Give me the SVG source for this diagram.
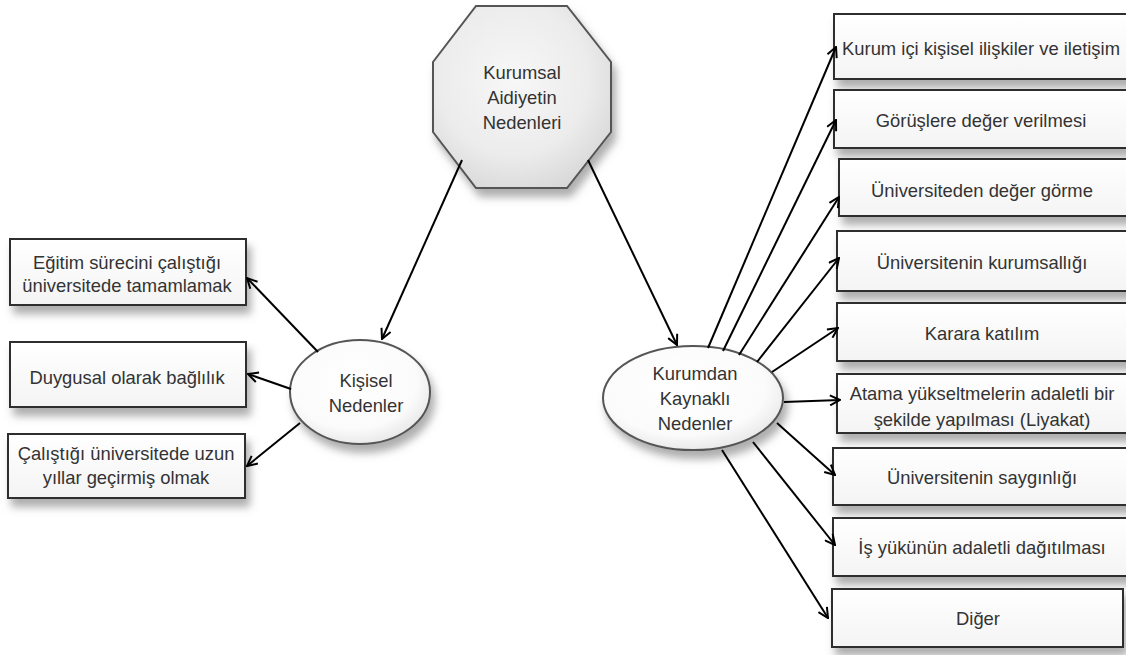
<svg xmlns="http://www.w3.org/2000/svg" width="1126" height="655" viewBox="0 0 1126 655">
<defs>
<style>
.box{fill:url(#boxg);stroke:#2e2e2e;stroke-width:2;filter:url(#sh)}
.ell{fill:url(#ellg);stroke:#555;stroke-width:2;filter:url(#sh)}
.t{font-family:"Liberation Sans",Arial,sans-serif;font-size:18.4px;fill:#333;text-anchor:middle;dominant-baseline:central}
.c{stroke:#000;stroke-width:2;fill:none;marker-end:url(#ah)}
</style>
<linearGradient id="boxg" x1="0" y1="0" x2="0" y2="1"><stop offset="0" stop-color="#ffffff"/><stop offset="1" stop-color="#f4f4f4"/></linearGradient>
<radialGradient id="ellg" cx="0.45" cy="0.4" r="0.65"><stop offset="0" stop-color="#ffffff"/><stop offset="0.7" stop-color="#fbfbfb"/><stop offset="1" stop-color="#e4e4e4"/></radialGradient>
<radialGradient id="octg" cx="0.45" cy="0.4" r="0.7"><stop offset="0" stop-color="#f7f7f7"/><stop offset="0.6" stop-color="#ececec"/><stop offset="1" stop-color="#d4d4d4"/></radialGradient>
<filter id="sh" x="-10%" y="-10%" width="125%" height="145%">
<feGaussianBlur in="SourceAlpha" stdDeviation="4"/>
<feOffset dx="4" dy="8" result="b"/>
<feFlood flood-color="#777" flood-opacity="0.6"/>
<feComposite in2="b" operator="in"/>
<feMerge><feMergeNode/><feMergeNode in="SourceGraphic"/></feMerge>
</filter>
<marker id="ah" viewBox="0 0 12 12" refX="11" refY="6" markerWidth="12" markerHeight="12" markerUnits="userSpaceOnUse" orient="auto">
<path d="M1,1 L11,6 L1,11" fill="none" stroke="#000" stroke-width="2"/>
</marker>
</defs>
<rect width="1126" height="655" fill="#fff"/>

<g id="root">
<polygon points="476,6 567,6 611,62 611,132 567,188 476,188 433,132 433,62" fill="url(#octg)" stroke="#555" stroke-width="2" filter="url(#sh)"/>
<text class="t" x="522" y="72">Kurumsal</text>
<text class="t" x="522" y="97">Aidiyetin</text>
<text class="t" x="522" y="122">Nedenleri</text>
</g>

<g id="kisisel">
<ellipse class="ell" cx="360" cy="392" rx="70" ry="52"/>
<text class="t" x="366" y="380">Kişisel</text>
<text class="t" x="366" y="405">Nedenler</text>
</g>

<g id="kurumdan">
<ellipse class="ell" cx="693" cy="398" rx="90" ry="52"/>
<text class="t" x="695" y="373">Kurumdan</text>
<text class="t" x="695" y="398">Kaynaklı</text>
<text class="t" x="695" y="423">Nedenler</text>
</g>

<g id="l1"><rect class="box" x="10" y="239" width="236" height="66"/>
<text class="t" x="127" y="262">Eğitim sürecini çalıştığı</text>
<text class="t" x="127" y="285">üniversitede tamamlamak</text></g>
<g id="l2"><rect class="box" x="10" y="342" width="236" height="65"/>
<text class="t" x="127" y="377">Duygusal olarak bağlılık</text></g>
<g id="l3"><rect class="box" x="8" y="434" width="237" height="64"/>
<text class="t" x="126" y="453">Çalıştığı üniversitede uzun</text>
<text class="t" x="126" y="477">yıllar geçirmiş olmak</text></g>

<g id="r1"><rect class="box" x="834" y="14" width="300" height="65"/>
<text class="t" x="981" y="48">Kurum içi kişisel ilişkiler ve iletişim</text></g>
<g id="r2"><rect class="box" x="834" y="90" width="300" height="58"/>
<text class="t" x="981" y="120">Görüşlere değer verilmesi</text></g>
<g id="r3"><rect class="box" x="839" y="159" width="295" height="57"/>
<text class="t" x="982" y="190">Üniversiteden değer görme</text></g>
<g id="r4"><rect class="box" x="837" y="231" width="297" height="60"/>
<text class="t" x="982" y="262">Üniversitenin kurumsallığı</text></g>
<g id="r5"><rect class="box" x="837" y="303" width="297" height="58"/>
<text class="t" x="982" y="333">Karara katılım</text></g>
<g id="r6"><rect class="box" x="837" y="374" width="297" height="59"/>
<text class="t" x="982" y="393">Atama yükseltmelerin adaletli bir</text>
<text class="t" x="982" y="419">şekilde yapılması (Liyakat)</text></g>
<g id="r7"><rect class="box" x="833" y="448" width="301" height="57"/>
<text class="t" x="982" y="477">Üniversitenin saygınlığı</text></g>
<g id="r8"><rect class="box" x="833" y="518" width="301" height="58"/>
<text class="t" x="982" y="547">İş yükünün adaletli dağıtılması</text></g>
<g id="r9"><rect class="box" x="832" y="589" width="291" height="58"/>
<text class="t" x="978" y="618">Diğer</text></g>

<g id="connectors">
<line class="c" x1="462" y1="160" x2="382" y2="339"/>
<line class="c" x1="588" y1="160" x2="677" y2="345"/>
<line class="c" x1="318" y1="352" x2="247" y2="278"/>
<line class="c" x1="291" y1="389" x2="248" y2="374"/>
<line class="c" x1="300" y1="423" x2="247" y2="466"/>
<line class="c" x1="708" y1="348" x2="836" y2="47"/>
<line class="c" x1="723" y1="351" x2="836" y2="120"/>
<line class="c" x1="739" y1="355" x2="839" y2="197"/>
<line class="c" x1="757" y1="362" x2="839" y2="258"/>
<line class="c" x1="772" y1="372" x2="838" y2="328"/>
<line class="c" x1="784" y1="402" x2="840" y2="400"/>
<line class="c" x1="777" y1="423" x2="835" y2="475"/>
<line class="c" x1="753" y1="442" x2="835" y2="545"/>
<line class="c" x1="722" y1="450" x2="828" y2="618"/>
</g>
</svg>
